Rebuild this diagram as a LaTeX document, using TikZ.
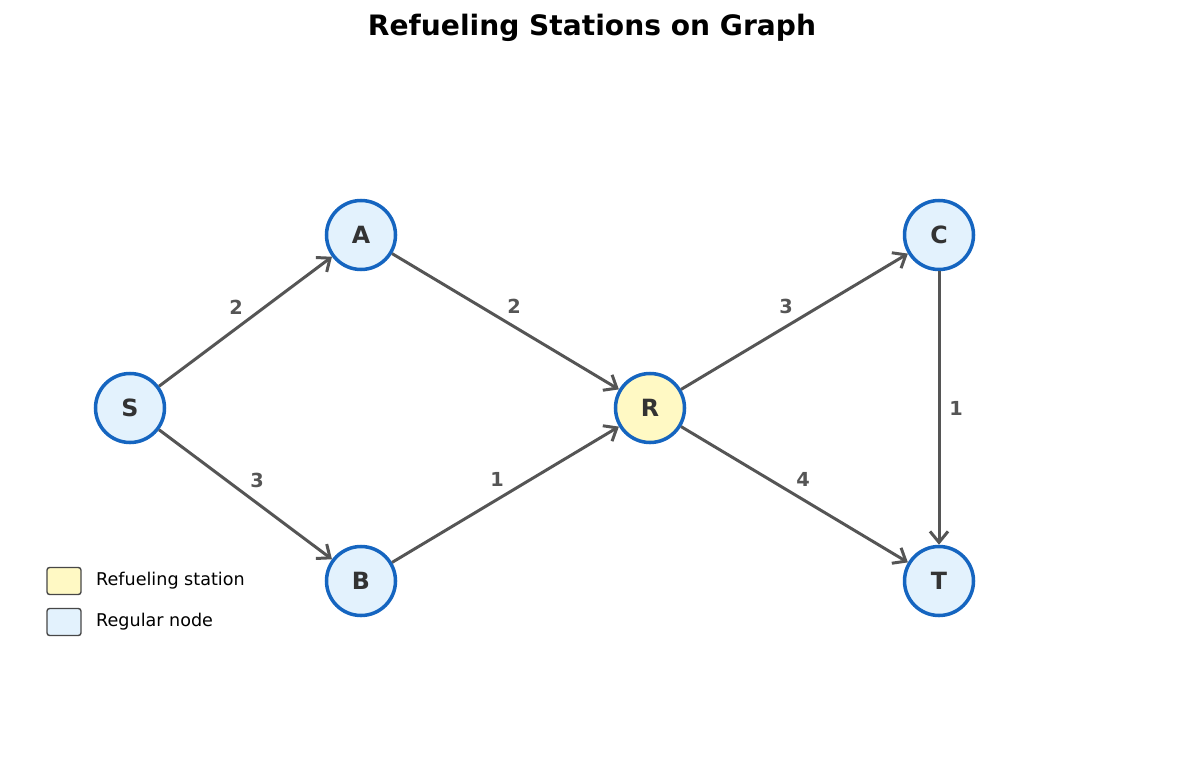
\documentclass[tikz,border=0pt]{standalone}
\usepackage{fontspec}
\setmainfont{DejaVu Sans}
\usetikzlibrary{arrows.meta}
\definecolor{nodefill}{HTML}{E3F2FD}
\definecolor{refuelfill}{HTML}{FFF9C4}
\definecolor{nodeborder}{HTML}{1565C0}
\definecolor{edgegray}{HTML}{555555}
\definecolor{textgray}{HTML}{333333}
\tikzset{
  station/.style={circle, draw=nodeborder, line width=2pt, fill=nodefill,
    minimum size=1.38cm, inner sep=0pt, text=textgray, font=\bfseries\fontsize{13.5}{14}\selectfont},
  refuel/.style={station, fill=refuelfill},
  road/.style={draw=edgegray, line width=1.7pt, -{Straight Barb[length=2.2mm,width=3.6mm]}},
  weight/.style={text=edgegray, font=\bfseries\fontsize{11}{12}\selectfont},
  legendbox/.style={draw=textgray!90, line width=0.8pt, rounded corners=1.5pt,
    minimum width=0.68cm, minimum height=0.54cm, inner sep=0pt},
  legendtext/.style={anchor=west, font=\fontsize{10}{12}\selectfont}
}
\begin{document}
\begin{tikzpicture}
            \useasboundingbox (0,0) rectangle (23.7,15.4);
            % Title
            \node (title) at (11.84,14.84) {\bfseries\fontsize{16}{18}\selectfont Refueling Stations on Graph};
            % Stations
            \node[station] (S) at (2.6,7.24) {S};
            \node[station] (A) at (7.22,10.7) {A};
            \node[station] (B) at (7.22,3.78) {B};
            \node[refuel] (R) at (13.0,7.24) {R};
            \node[station] (C) at (18.78,10.7) {C};
            \node[station] (T) at (18.78,3.78) {T};
            % Roads
            \draw[road] (S) -- (A);
            \draw[road] (S) -- (B);
            \draw[road] (A) -- (R);
            \draw[road] (B) -- (R);
            \draw[road] (R) -- (C);
            \draw[road] (R) -- (T);
            \draw[road] (C) -- (T);
            % Weights
            \node[weight] (wSA) at (4.72,9.26) {2};
            \node[weight] (wSB) at (5.14,5.8) {3};
            \node[weight] (wAR) at (10.28,9.28) {2};
            \node[weight] (wBR) at (9.94,5.82) {1};
            \node[weight] (wRC) at (15.72,9.28) {3};
            \node[weight] (wRT) at (16.06,5.82) {4};
            \node[weight] (wCT) at (19.12,7.24) {1};
            % Legend
            \node[legendbox, fill=refuelfill] (keyR) at (1.28,3.78) {};
            \node[legendbox, fill=nodefill] (keyN) at (1.28,2.96) {};
            \node[legendtext] at (1.8,3.78) {Refueling station};
            \node[legendtext] at (1.8,2.96) {Regular node};
\end{tikzpicture}
\end{document}
